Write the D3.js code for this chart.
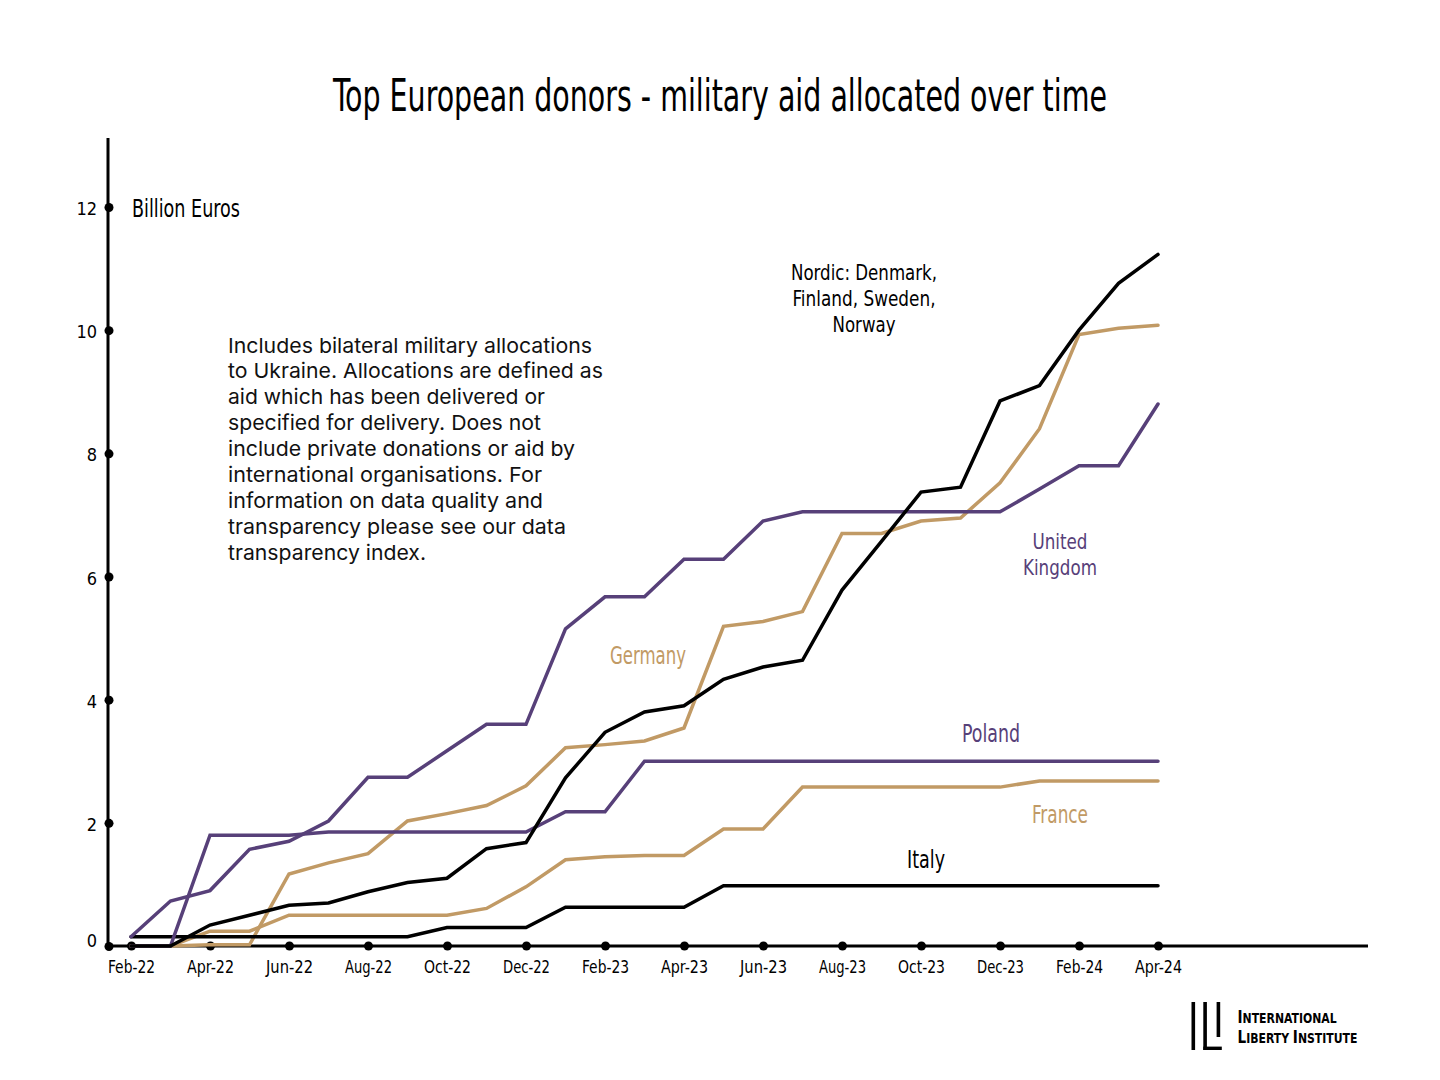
<!DOCTYPE html>
<html>
<head>
<meta charset="utf-8">
<script src="https://cdn.jsdelivr.net/npm/d3@7"></script>
<style>
  html, body { margin: 0; padding: 0; background: #ffffff; }
  svg { display: block; }
  .cond { font-family: 'Liberation Sans Narrow', 'DejaVu Sans Condensed', 'Roboto', sans-serif; }
  .note { font-family: 'Inter', 'Lato', sans-serif; }
</style>
</head>
<body>
<svg id="chart" width="1440" height="1080"></svg>
<script>
// ---------------- DATA ----------------
const months = ["Feb-22","Mar-22","Apr-22","May-22","Jun-22","Jul-22","Aug-22","Sep-22","Oct-22","Nov-22","Dec-22",
  "Jan-23","Feb-23","Mar-23","Apr-23","May-23","Jun-23","Jul-23","Aug-23","Sep-23","Oct-23","Nov-23","Dec-23",
  "Jan-24","Feb-24","Mar-24","Apr-24"];
const tickLabels = ["Feb-22","Apr-22","Jun-22","Aug-22","Oct-22","Dec-22","Feb-23","Apr-23","Jun-23","Aug-23","Oct-23","Dec-23","Feb-24","Apr-24"];
const yTickValues = [0, 2, 4, 6, 8, 10, 12];

const nordic  = [0, 0, 0.34, 0.5, 0.66, 0.7, 0.88, 1.03, 1.1, 1.58, 1.68, 2.73, 3.47, 3.8, 3.9, 4.33, 4.53, 4.64, 5.78, 6.57, 7.37, 7.45, 8.85, 9.1, 10.0, 10.76, 11.23];
const germany = [0, 0, 0.02, 0.02, 1.17, 1.35, 1.5, 2.03, 2.15, 2.28, 2.6, 3.22, 3.27, 3.33, 3.54, 5.19, 5.27, 5.43, 6.7, 6.7, 6.9, 6.95, 7.52, 8.4, 9.93, 10.03, 10.08];
const uk      = [0.15, 0.73, 0.9, 1.57, 1.7, 2.03, 2.74, 2.74, 3.17, 3.6, 3.6, 5.15, 5.67, 5.67, 6.28, 6.28, 6.9, 7.05, 7.05, 7.05, 7.05, 7.05, 7.05, 7.42, 7.8, 7.8, 8.8];
const poland  = [0, 0, 1.8, 1.8, 1.8, 1.85, 1.85, 1.85, 1.85, 1.85, 1.85, 2.18, 2.18, 3.0, 3.0, 3.0, 3.0, 3.0, 3.0, 3.0, 3.0, 3.0, 3.0, 3.0, 3.0, 3.0, 3.0];
const france  = [0, 0, 0.24, 0.24, 0.5, 0.5, 0.5, 0.5, 0.5, 0.61, 0.96, 1.4, 1.45, 1.47, 1.47, 1.9, 1.9, 2.58, 2.58, 2.58, 2.58, 2.58, 2.58, 2.68, 2.68, 2.68, 2.68];
const italy   = [0.15, 0.15, 0.15, 0.15, 0.15, 0.15, 0.15, 0.15, 0.3, 0.3, 0.3, 0.63, 0.63, 0.63, 0.63, 0.98, 0.98, 0.98, 0.98, 0.98, 0.98, 0.98, 0.98, 0.98, 0.98, 0.98, 0.98];

const seriesNames = ["France", "Germany", "Italy", "Poland", "United Kingdom", "Nordic"];
const seriesValues = [france, germany, italy, poland, uk, nordic];

const titleText = "Top European donors - military aid allocated over time";
const unitText = "Billion Euros";
const noteLines = [
  "Includes bilateral military allocations",
  "to Ukraine. Allocations are defined as",
  "aid which has been delivered or",
  "specified for delivery. Does not",
  "include private donations or aid by",
  "international organisations. For",
  "information on data quality and",
  "transparency please see our data",
  "transparency index."
];

// ---------------- STYLE / LAYOUT ----------------
const PURPLE = "#574079";
const TAN = "#c19a65";
const BLACK = "#000000";
const colorOf = {"France": TAN, "Germany": TAN, "Italy": BLACK, "Poland": PURPLE, "United Kingdom": PURPLE, "Nordic": BLACK};

const svg = d3.select("#chart");
const x = d3.scalePoint().domain(months).range([131, 1158]);
const y = d3.scaleLinear().domain([0, 12]).range([946, 207]);

function fit(sel, w) { sel.attr("textLength", w).attr("lengthAdjust", "spacingAndGlyphs"); }

// Title
const title = svg.append("text").attr("class", "cond")
  .attr("x", 333).attr("y", 111).attr("font-size", 44).attr("fill", "#000")
  .text(titleText);
fit(title, 774);

// Axes lines
svg.append("line").attr("x1", 108).attr("x2", 108).attr("y1", 138).attr("y2", y(0))
  .attr("stroke", "#000").attr("stroke-width", 3);
svg.append("line").attr("x1", 108).attr("x2", 1368).attr("y1", y(0)).attr("y2", y(0))
  .attr("stroke", "#000").attr("stroke-width", 3);

// Y axis
const yAxis = svg.append("g").attr("transform", "translate(109,0)")
  .call(d3.axisLeft(y).tickValues(yTickValues).tickSize(0).tickPadding(12).tickFormat(d3.format("d")));
yAxis.select(".domain").remove();
yAxis.selectAll("text").attr("class", "cond").attr("font-size", 18).attr("fill", "#000")
  .attr("font-family", null).attr("dy", d => d === 0 ? "0.05em" : "0.42em");
yAxis.selectAll(".tick").append("circle").attr("r", 4.5).attr("fill", "#000");

// X axis
const xAxis = svg.append("g").attr("transform", `translate(0,${y(0)})`)
  .call(d3.axisBottom(x).tickValues(tickLabels).tickSize(0).tickPadding(14));
xAxis.select(".domain").remove();
xAxis.selectAll("text").attr("class", "cond").attr("font-size", 18).attr("fill", "#000").attr("font-family", null);
xAxis.selectAll("text").each(function() { fit(d3.select(this), 47); });
xAxis.selectAll(".tick").append("circle").attr("r", 4.5).attr("fill", "#000");

// Unit label
const unit = svg.append("text").attr("class", "cond").attr("x", 132).attr("y", 217)
  .attr("font-size", 25).attr("fill", "#000").text(unitText);
fit(unit, 108);

// Lines
const line = d3.line().x((d, i) => x(months[i])).y(d => y(d));
svg.append("g").selectAll("path").data(seriesNames).join("path")
  .attr("d", (n, i) => line(seriesValues[i]))
  .attr("fill", "none").attr("stroke", n => colorOf[n])
  .attr("stroke-width", 3.5).attr("stroke-linejoin", "miter").attr("stroke-linecap", "round");

// Series labels
const labels = [
  {lines: ["Germany"], x: 648, y: 664, color: TAN, w: [76], fs: 25},
  {lines: ["United", "Kingdom"], x: 1060, y: 549, color: PURPLE, w: [55, 74], fs: 22},
  {lines: ["Poland"], x: 991, y: 742, color: PURPLE, w: [58], fs: 25},
  {lines: ["France"], x: 1060, y: 823, color: TAN, w: [56], fs: 25},
  {lines: ["Italy"], x: 926, y: 868, color: BLACK, w: [38], fs: 25},
  {lines: ["Nordic: Denmark,", "Finland, Sweden,", "Norway"], x: 864, y: 280, color: BLACK, w: [146, 143, 63], fs: 22}
];
labels.forEach(l => {
  const te = svg.append("text").attr("class", "cond")
    .attr("text-anchor", "middle").attr("font-size", l.fs).attr("fill", l.color);
  l.lines.forEach((t, k) => {
    const ts = te.append("tspan").attr("x", l.x).attr("y", l.y + k * 25.8).text(t);
    fit(ts, l.w[k]);
  });
});

// Note paragraph
const noteW = [364, 375, 317, 313, 347, 314, 315, 338, 198];
const note = svg.append("text").attr("class", "note").attr("font-size", 20.5).attr("fill", "#111");
noteLines.forEach((t, k) => {
  const ts = note.append("tspan").attr("x", 228).attr("y", 352.5 + k * 25.9).text(t);
  fit(ts, noteW[k]);
});

// Logo
const logo = svg.append("g");
logo.append("rect").attr("x", 1191.5).attr("y", 1002).attr("width", 3.6).attr("height", 48).attr("fill", "#000");
logo.append("rect").attr("x", 1203.3).attr("y", 1002).attr("width", 3.6).attr("height", 48).attr("fill", "#000");
logo.append("rect").attr("x", 1203.3).attr("y", 1046.6).attr("width", 18.5).attr("height", 3.4).attr("fill", "#000");
logo.append("rect").attr("x", 1216.6).attr("y", 1002).attr("width", 3.6).attr("height", 35).attr("fill", "#000");

const logoText = logo.append("text").attr("class", "cond").attr("font-weight", "bold").attr("fill", "#000");
const logoLines = [
  {parts: [["I", 17.5], ["NTERNATIONAL", 14]], y: 1023.3},
  {parts: [["L", 17.5], ["IBERTY ", 14], ["I", 17.5], ["NSTITUTE", 14]], y: 1043.3}
];
const logoLineSpans = logoLines.map(L => L.parts.map((p, k) => {
  const ts = logoText.append("tspan").attr("font-size", p[1]).text(p[0]);
  if (k === 0) ts.attr("x", 1237.5).attr("y", L.y);
  return ts;
}));
// horizontally condense logo text so the longer line spans its reference width
const line2W = d3.sum(logoLineSpans[1], ts => ts.node().getComputedTextLength());
const k = 120 / line2W;
logoText.attr("transform", `translate(1237.5,0) scale(${k},1) translate(-1237.5,0)`);
</script>
</body>
</html>
